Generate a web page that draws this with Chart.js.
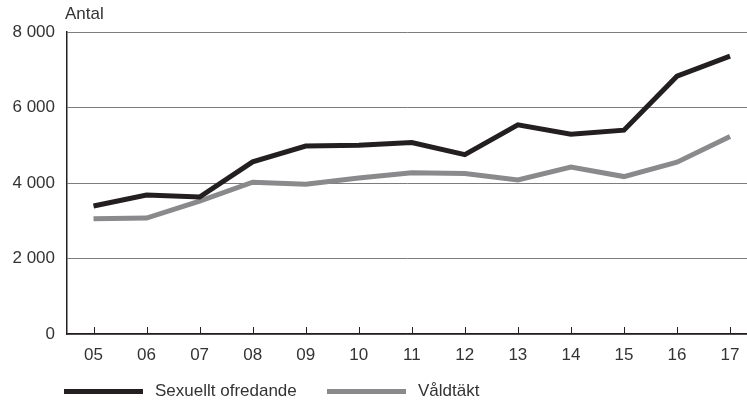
<!DOCTYPE html>
<html>
<head>
<meta charset="utf-8">
<script src="https://cdn.jsdelivr.net/npm/chart.js@4/dist/chart.umd.min.js"></script>
<style>
  body { margin: 0; background: #fff; font-family: "Liberation Sans", Arial, sans-serif; color: #333; }
  #wrap { position: relative; width: 747px; height: 402px; }
  #unit { position: absolute; left: 65px; top: 4px; font-size: 17px; }
  .item { position: absolute; top: 381px; font-size: 17px; display: flex; align-items: center; }
  .line { width: 79px; height: 5px; margin-right: 12px; }
</style>
</head>
<body>
<div id="wrap">
  <canvas id="chart" width="747" height="402"></canvas>
  <div id="unit">Antal</div>
</div>
<script>
// år (2005–2017)
const years = ['05', '06', '07', '08', '09', '10', '11', '12', '13', '14', '15', '16', '17'];
const ofredande = [3390, 3680, 3630, 4560, 4980, 5000, 5070, 4750, 5540, 5290, 5400, 6830, 7360];
const valdtakt = [3050, 3070, 3520, 4020, 3970, 4130, 4270, 4250, 4080, 4420, 4170, 4550, 5230];
const yTicks = [0, 2000, 4000, 6000, 8000];

const series = [
    { label: 'Sexuellt ofredande', data: ofredande, color: '#231f20', left: 64 },
    { label: 'Våldtäkt', data: valdtakt, color: '#8a8a8c', left: 327 }
];

// små streck uppåt från x-axeln
const innerTicks = {
    id: 'innerTicks',
    afterDraw(chart) {
        const x = chart.scales.x, ctx = chart.ctx, bottom = chart.chartArea.bottom;
        ctx.save();
        ctx.strokeStyle = '#231f20';
        ctx.lineWidth = 1;
        years.forEach((y, i) => {
            const px = Math.round(x.getPixelForValue(i)) + 0.5;
            ctx.beginPath();
            ctx.moveTo(px, bottom);
            ctx.lineTo(px, bottom - 7);
            ctx.stroke();
        });
        ctx.restore();
    }
};

const font = { family: '"Liberation Sans", Arial, sans-serif', size: 17 };

new Chart(document.getElementById('chart').getContext('2d'), {
    type: 'line',
    data: {
        datasets: series.map(s => ({
            label: s.label,
            data: s.data.map((v, i) => ({ x: i, y: v })),
            borderColor: s.color,
            borderWidth: 5,
            pointRadius: 0,
            tension: 0,
            borderJoinStyle: 'miter',
            fill: false
        }))
    },
    options: {
        responsive: false,
        animation: false,
        layout: { padding: { top: 32, right: 0, left: 0, bottom: 0 } },
        plugins: { legend: { display: false }, tooltip: { enabled: false } },
        scales: {
            x: {
                type: 'linear',
                min: -0.5,
                max: 12.32,
                afterFit(scale) { scale.height = 68; },
                grid: { display: false },
                border: { display: true, color: '#231f20', width: 1.5 },
                ticks: {
                    stepSize: 1,
                    includeBounds: false,
                    autoSkip: false,
                    maxRotation: 0,
                    padding: 3,
                    color: '#333',
                    font: font,
                    callback: v => years[v] !== undefined ? years[v] : ''
                }
            },
            y: {
                min: 0,
                max: 8000,
                afterFit(scale) { scale.width = 67; },
                afterBuildTicks(scale) { scale.ticks = yTicks.map(v => ({ value: v })); },
                grid: { color: '#7d7d7d', lineWidth: 1, drawTicks: false },
                border: { display: true, color: '#231f20', width: 1.5 },
                ticks: {
                    padding: 12,
                    color: '#333',
                    font: font,
                    callback: v => v === 0 ? '0' : (v / 1000) + ' 000'
                }
            }
        }
    },
    plugins: [innerTicks]
});

// förklaring
const wrap = document.getElementById('wrap');
series.forEach(s => {
    const item = document.createElement('div');
    item.className = 'item';
    item.style.left = s.left + 'px';
    const line = document.createElement('span');
    line.className = 'line';
    line.style.background = s.color;
    const text = document.createElement('span');
    text.textContent = s.label;
    item.appendChild(line);
    item.appendChild(text);
    wrap.appendChild(item);
});
</script>
</body>
</html>
